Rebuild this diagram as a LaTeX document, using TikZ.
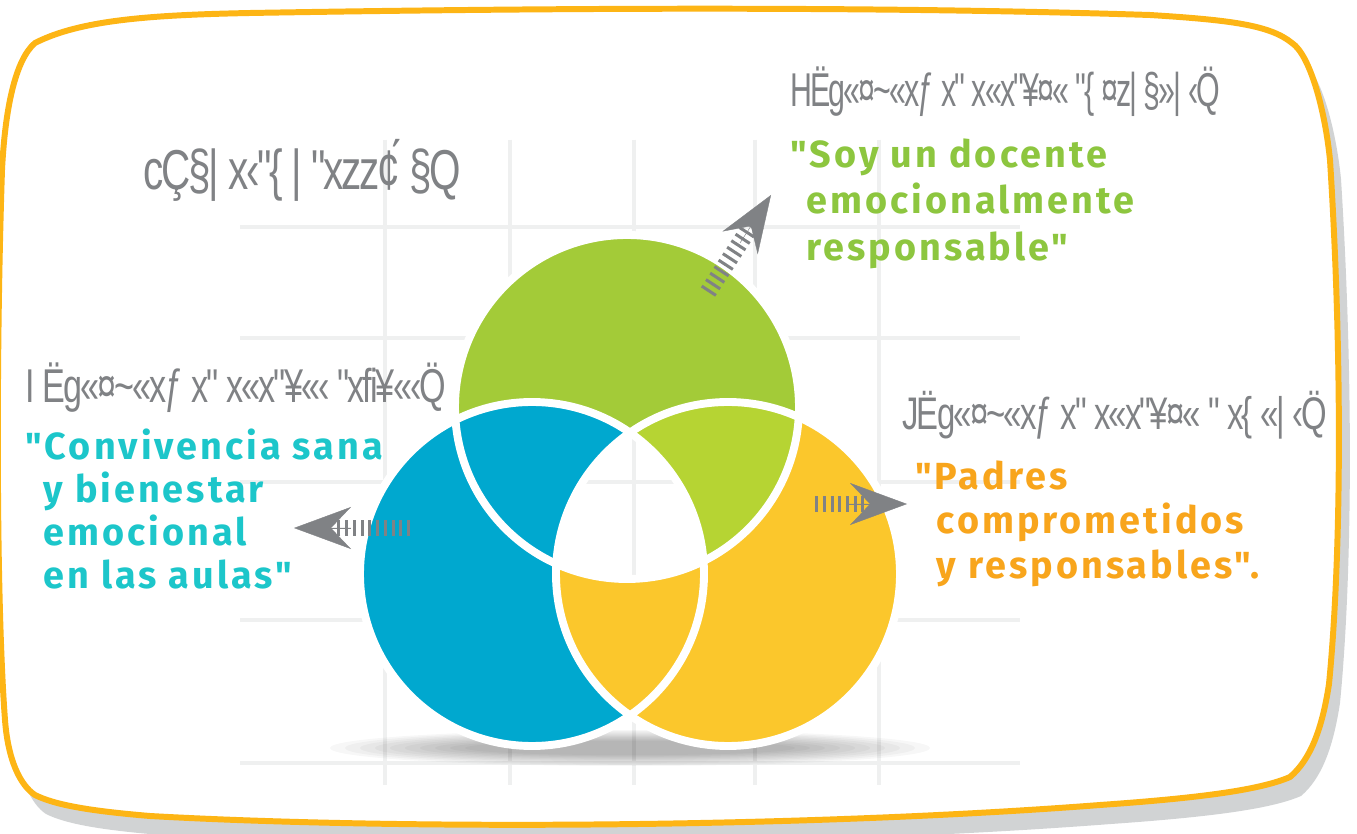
\documentclass[tikz,border=0pt]{standalone}
\usepackage{fontspec}
\usetikzlibrary{arrows.meta,positioning}
\newfontfamily\quotefont{Fira Sans}[LetterSpace=8]
\newfontfamily\garbledfont{Liberation Sans}[FakeStretch=0.64,LetterSpace=-4]
\newfontfamily\garbledwide{Liberation Sans}[FakeStretch=0.72,LetterSpace=-4]
\definecolor{frameorange}{HTML}{FDB515}
\definecolor{shadowgray}{HTML}{D1D3D4}
\definecolor{gridgray}{HTML}{EFF0F0}
\definecolor{greenmain}{HTML}{A3CB38}
\definecolor{greenlens}{HTML}{B6D433}
\definecolor{bluemain}{HTML}{00A8CF}
\definecolor{yellowmain}{HTML}{FBC72C}
\definecolor{quotegreen}{HTML}{8DC63F}
\definecolor{quotecyan}{HTML}{1CC6CA}
\definecolor{quoteorange}{HTML}{F8A51C}
\definecolor{labelgray}{HTML}{808285}
\newcommand{\framepath}{(35,43) .. controls (80,20) and (150,15) .. (250,13)
  .. controls (600,7) and (900,7) .. (1150,15) .. controls (1230,20) and (1270,25) .. (1292,43)
  .. controls (1310,55) and (1325,110) .. (1330,160) .. controls (1342,350) and (1342,550) .. (1329,684)
  .. controls (1322,730) and (1310,760) .. (1290,777) .. controls (1260,790) and (1200,798) .. (1100,805)
  .. controls (800,828) and (400,830) .. (150,816) .. controls (90,811) and (55,805) .. (35,795)
  .. controls (20,785) and (8,760) .. (5,720) .. controls (-4,600) and (-4,350) .. (2,170)
  .. controls (5,110) and (15,60) .. cycle}
\newcommand{\drawgrid}{%
  \foreach \gx in {385,510,634,755,879} {\draw[gridline] (\gx,140) -- (\gx,785);}
  \foreach \gy in {227,338,482,620,763} {\draw[gridline] (240,\gy) -- (1020,\gy);}}
\begin{document}
\begin{tikzpicture}[x=0.02cm, y=-0.02cm,
  frame/.style={draw=frameorange, line width=3.4pt, fill=white},
  gridline/.style={draw=gridgray, line width=2.2pt},
  rim/.style={draw=white, line width=4.5pt},
  hatch/.style={draw=labelgray, line width=0.34cm, dash pattern=on 0.06cm off 0.095cm},
  head/.style={draw=labelgray, fill=labelgray, line width=0.2pt, -{Stealth[length=1.14cm, width=0.84cm, inset=0.4cm]}},
  gray label/.style={anchor=base west, inner sep=0, text=labelgray, font=\garbledfont\fontsize{27}{31}\selectfont},
  quote/.style={anchor=north west, inner sep=0, align=left, font=\quotefont\bfseries\fontsize{21.5}{26.6}\selectfont}]
\useasboundingbox (0,0) rectangle (1357,834);

% Frame with shadow
\fill[shadowgray, shift={(11,19)}] \framepath;
\draw[frame] \framepath;

% Background grid
\drawgrid

% Shadow under the circles
\foreach \k in {0,...,9}
  \fill[black, opacity=0.03] (630,748) ellipse ({300-15*\k} and {18-1.2*\k});

% Circles
\def\rad{172}
\coordinate (G) at (627,407);
\coordinate (B) at (532,574);
\coordinate (Y) at (728,574);
\fill[greenmain] (G) circle (\rad);
\fill[bluemain] (B) circle (\rad);
\fill[yellowmain] (Y) circle (\rad);
\begin{scope}
  \clip (Y) circle (\rad);
  \fill[greenlens] (G) circle (\rad);
\end{scope}
\begin{scope}
  \clip (B) circle (\rad);
  \fill[yellowmain] (Y) circle (\rad);
\end{scope}
\begin{scope}
  \clip (G) circle (\rad);
  \fill[bluemain] (B) circle (\rad);
\end{scope}
% Centre
\begin{scope}
  \clip (B) circle (\rad);
  \clip (Y) circle (\rad);
  \clip (G) circle (\rad);
  \fill[white] (G) circle (\rad);
  \drawgrid
\end{scope}
\foreach \c in {G,B,Y}
  \draw[rim] (\c) circle (\rad);

% Arrows
\coordinate (gtail) at (708,292);
\coordinate (gnotch) at (751,226);
\coordinate (gback) at (740,243);
\coordinate (gtip) at (771,195);
\coordinate (ltail) at (410,528);
\coordinate (lnotch) at (333,528);
\coordinate (lback) at (351,528);
\coordinate (ltip) at (294,528);
\coordinate (rtail) at (815,504);
\coordinate (rnotch) at (868,504);
\coordinate (rback) at (849,504);
\coordinate (rtip) at (907,504);
\draw[hatch] (gtail) -- (gnotch);
\draw[head] (gback) -- (gtip);
\draw[hatch] (ltail) -- (lnotch);
\draw[head] (lback) -- (ltip);
\draw[hatch] (rtail) -- (rnotch);
\draw[head] (rback) -- (rtip);

% Labels
\node[gray label, font=\garbledwide\fontsize{32}{36}\selectfont] (title) at (143,190) {cÇ§| x‹"\{ | "xzz¢́ §Q};
\node[gray label] (docentelbl) at (790,107) {HËg«¤\textasciitilde«xƒ x" x«x"¥¤« "\{ ¤z| §»| ‹Q̈};
\node[gray label, font=\garbledwide\fontsize{27}{31}\selectfont] (aulalbl) at (25,403) {I Ëg«¤\textasciitilde«xƒ x" x«x"¥«‹ "xfi¥«‹Q̈};
\node[gray label, font=\garbledwide\fontsize{26}{30}\selectfont] (padreslbl) at (902,430) {JËg«¤\textasciitilde«xƒ x" x«x"¥¤« " x\{ «| ‹Q̈};

% Quotes
\node[quote, text=quotegreen] (docente) at (790,138)
  {"Soy un docente\\\hspace*{0.43em}emocionalmente\\\hspace*{0.43em}responsable"};
\node[quote, text=quotecyan, font=\quotefont\bfseries\fontsize{21.5}{24.4}\selectfont] (aula) at (25,429)
  {"Convivencia sana\\\hspace*{0.48em}y bienestar\\\hspace*{0.48em}emocional\\\hspace*{0.48em}en las aulas"};
\node[quote, text=quoteorange, font=\quotefont\bfseries\fontsize{21.5}{25.5}\selectfont] (padres) at (915,460)
  {"Padres\\\hspace*{0.57em}comprometidos\\\hspace*{0.57em}y responsables".};

\end{tikzpicture}
\end{document}
